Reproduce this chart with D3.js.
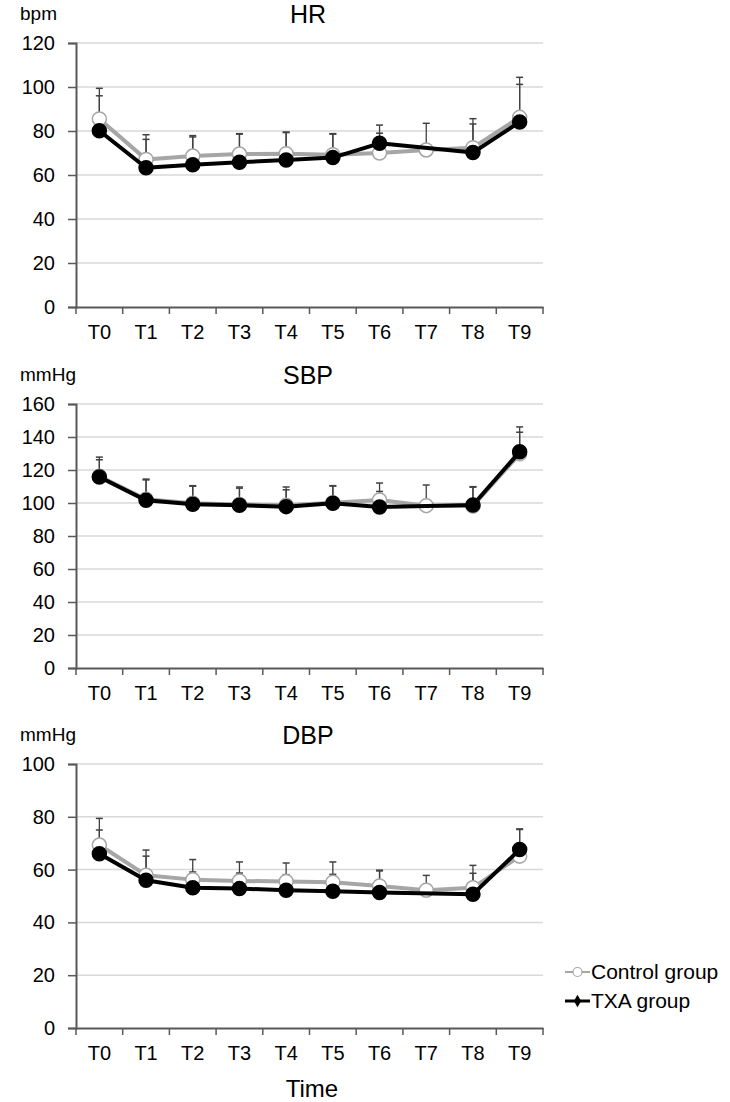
<!DOCTYPE html>
<html>
<head>
<meta charset="utf-8">
<script src="https://cdn.jsdelivr.net/npm/d3@7"></script>
<style>
  body { margin: 0; background: #fff; }
  svg { display: block; font-family: "Liberation Sans", Arial, sans-serif; }
</style>
</head>
<body>
<div id="chart"></div>
<script>
(function() {

  var times = ['T0', 'T1', 'T2', 'T3', 'T4', 'T5', 'T6', 'T7', 'T8', 'T9'];

  // HR (bpm)
  var hrControl    = [85.5, 67.1, 68.6, 69.5, 69.7, 69.2, 70.0, 71.4, 72.4, 86.2],
      hrControlSd  = [13.9, 11.2, 9.3, 9.3, 9.8, 9.6, 9.0, 12.1, 13.2, 18.2],
      hrTxa        = [80.1, 63.3, 64.7, 65.8, 66.8, 67.9, 74.4, null, 70.2, 84.1],
      hrTxaSd      = [15.9, 12.9, 12.6, 12.8, 12.5, 10.7, 8.3, null, 13.0, 17.1];

  // SBP (mmHg)
  var sbpControl   = [116.2, 102.3, 99.8, 99.1, 98.6, 100.2, 101.8, 98.4, 98.2, 129.8],
      sbpControlSd = [11.6, 12.2, 10.7, 10.6, 11.1, 10.3, 10.3, 12.5, 11.7, 16.3],
      sbpTxa       = [115.8, 101.6, 99.2, 98.6, 97.8, 99.8, 97.6, null, 98.8, 131.0],
      sbpTxaSd     = [10.4, 12.4, 11.0, 10.4, 10.2, 10.5, 9.4, null, 10.8, 11.9];

  // DBP (mmHg)
  var dbpControl   = [69.3, 57.9, 56.2, 55.7, 55.5, 55.2, 53.8, 52.2, 53.1, 65.1],
      dbpControlSd = [10.1, 9.5, 7.6, 7.2, 7.0, 7.7, 6.0, 5.6, 8.5, 10.3],
      dbpTxa       = [66.0, 56.0, 53.1, 52.8, 52.2, 51.8, 51.3, null, 50.7, 67.6],
      dbpTxaSd     = [9.0, 9.1, 6.0, 5.9, 5.9, 6.4, 8.2, null, 7.9, 7.6];

  var panels = [
    {title: 'HR',  unit: 'bpm',  max: 120, ticks: [0, 20, 40, 60, 80, 100, 120],
     control: hrControl, controlSd: hrControlSd, txa: hrTxa, txaSd: hrTxaSd, top: 43},
    {title: 'SBP', unit: 'mmHg', max: 160, ticks: [0, 20, 40, 60, 80, 100, 120, 140, 160],
     control: sbpControl, controlSd: sbpControlSd, txa: sbpTxa, txaSd: sbpTxaSd, top: 404},
    {title: 'DBP', unit: 'mmHg', max: 100, ticks: [0, 20, 40, 60, 80, 100],
     control: dbpControl, controlSd: dbpControlSd, txa: dbpTxa, txaSd: dbpTxaSd, top: 764}
  ];

  var legendNames = ['Control group', 'TXA group'];

  var width = 730, height = 1102,
      left = 76, right = 543, plotH = 264;

  var grey = '#a6a6a6', axisCol = '#595959', gridCol = '#d9d9d9', errCol = '#404040';

  var svg = d3.select('#chart').append('svg')
    .attr('width', width)
    .attr('height', height);

  var x = d3.scaleBand().domain(times).range([left, right]);

  panels.forEach(function(p) {
    var y = d3.scaleLinear().domain([0, p.max]).range([p.top + plotH, p.top]);
    var g = svg.append('g');

    // gridlines
    g.selectAll('.grid').data(p.ticks.filter(function(t) { return t > 0; }))
      .enter().append('line')
      .attr('x1', left).attr('x2', right)
      .attr('y1', function(d) { return y(d); })
      .attr('y2', function(d) { return y(d); })
      .attr('stroke', gridCol).attr('stroke-width', 1.5);

    // y axis
    var ya = g.append('g')
      .attr('transform', 'translate(' + left + ',0)')
      .call(d3.axisLeft(y).tickValues(p.ticks).tickSize(8).tickPadding(13));
    ya.select('.domain').attr('stroke', axisCol).attr('stroke-width', 2);
    ya.selectAll('.tick line').attr('stroke', axisCol).attr('stroke-width', 1.5);
    ya.selectAll('text').style('font-size', '20px').attr('fill', '#000');

    // x axis
    var xa = g.append('g')
      .attr('transform', 'translate(0,' + y(0) + ')')
      .call(d3.axisBottom(x).tickSize(0).tickPadding(18));
    xa.select('.domain').attr('stroke', axisCol).attr('stroke-width', 2);
    xa.selectAll('text').style('font-size', '20px').attr('fill', '#000');
    // tick marks at band boundaries
    xa.selectAll('.bound').data(d3.range(times.length + 1))
      .enter().append('line')
      .attr('x1', function(i) { return left + i * x.step(); })
      .attr('x2', function(i) { return left + i * x.step(); })
      .attr('y1', 0).attr('y2', 7)
      .attr('stroke', axisCol).attr('stroke-width', 1.5);

    // titles
    g.append('text')
      .attr('x', 308).attr('y', p.top - 20)
      .attr('text-anchor', 'middle')
      .style('font-size', '25px')
      .text(p.title);
    g.append('text')
      .attr('x', 20).attr('y', p.top - 23)
      .style('font-size', '19px')
      .text(p.unit);

    var series = [
      {vals: p.control, sd: p.controlSd, stroke: grey, fill: '#fff', mstroke: grey},
      {vals: p.txa, sd: p.txaSd, stroke: '#000', fill: '#000', mstroke: '#000'}
    ];

    series.forEach(function(s) {
      var pts = s.vals.map(function(v, i) { return {t: times[i], v: v, sd: s.sd[i]}; })
        .filter(function(d) { return d.v != null; });
      var cx = function(d) { return x(d.t) + x.bandwidth() / 2; };

      // error bars (upper)
      var eb = g.append('g').selectAll('g').data(pts).enter().append('g');
      eb.append('line')
        .attr('x1', cx).attr('x2', cx)
        .attr('y1', function(d) { return y(d.v); })
        .attr('y2', function(d) { return y(d.v + d.sd); })
        .attr('stroke', errCol).attr('stroke-width', 1.3);
      eb.append('line')
        .attr('x1', function(d) { return cx(d) - 3.5; })
        .attr('x2', function(d) { return cx(d) + 3.5; })
        .attr('y1', function(d) { return y(d.v + d.sd); })
        .attr('y2', function(d) { return y(d.v + d.sd); })
        .attr('stroke', errCol).attr('stroke-width', 1.5);
    });

    series.forEach(function(s) {
      var pts = s.vals.map(function(v, i) { return {t: times[i], v: v}; })
        .filter(function(d) { return d.v != null; });
      var cx = function(d) { return x(d.t) + x.bandwidth() / 2; };
      var line = d3.line().x(cx).y(function(d) { return y(d.v); });

      g.append('path')
        .datum(pts)
        .attr('d', line)
        .attr('fill', 'none')
        .attr('stroke', s.stroke)
        .attr('stroke-width', 4)
        .attr('stroke-linejoin', 'round');

      g.selectAll(null).data(pts).enter().append('circle')
        .attr('cx', cx)
        .attr('cy', function(d) { return y(d.v); })
        .attr('r', 7)
        .attr('fill', s.fill)
        .attr('stroke', s.mstroke)
        .attr('stroke-width', 1.5);
    });
  });

  // x axis title
  svg.append('text')
    .attr('x', 312).attr('y', 1097)
    .attr('text-anchor', 'middle')
    .style('font-size', '24px')
    .text('Time');

  // legend
  var leg = svg.append('g').attr('transform', 'translate(565,972)');
  legendNames.forEach(function(name, i) {
    var row = leg.append('g').attr('transform', 'translate(0,' + (i * 29) + ')');
    row.append('line')
      .attr('x1', 0).attr('x2', 25).attr('y1', 0).attr('y2', 0)
      .attr('stroke', i === 0 ? grey : '#000').attr('stroke-width', i === 0 ? 2 : 3);
    if (i === 0) {
      row.append('circle').attr('cx', 12.5).attr('cy', 0).attr('r', 4.5)
        .attr('fill', '#fff').attr('stroke', grey).attr('stroke-width', 1.2);
    } else {
      row.append('path')
        .attr('d', d3.symbol().type(d3.symbolDiamond).size(45))
        .attr('transform', 'translate(12.5,0)')
        .attr('fill', '#000');
    }
    row.append('text')
      .attr('x', 26).attr('y', 7)
      .style('font-size', '21px')
      .text(name);
  });

})();
</script>
</body>
</html>
